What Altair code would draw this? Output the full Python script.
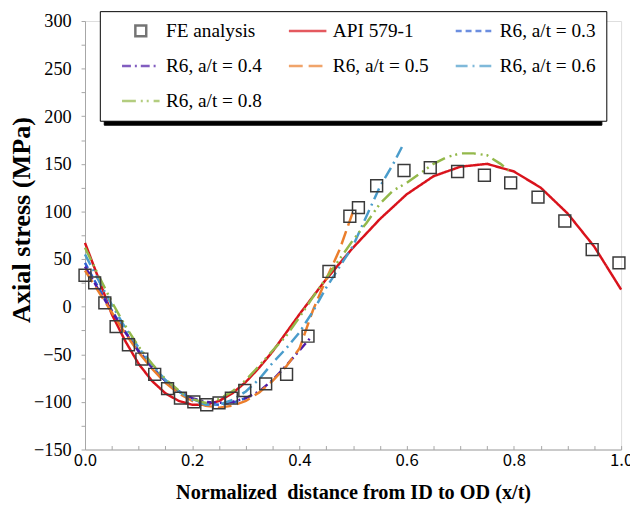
import altair as alt
import pandas as pd

# ---------------- data ----------------
fe_x = [0.0, 0.018, 0.037, 0.058, 0.081, 0.106, 0.130, 0.154, 0.178, 0.203,
        0.227, 0.250, 0.273, 0.298, 0.337, 0.376, 0.416, 0.455, 0.494, 0.510,
        0.544, 0.595, 0.644, 0.695, 0.745, 0.794, 0.845, 0.895, 0.946, 0.996]
fe_y = [33, 25, 4, -21, -40, -55, -71, -86, -96, -100,
        -103, -101, -96, -88, -81, -71, -31, 37, 95, 104,
        127, 143, 146, 142, 138, 130, 115, 90, 60, 46]

api_x = [0.0, 0.025, 0.05, 0.075, 0.1, 0.125, 0.15, 0.175, 0.2, 0.225, 0.25,
         0.275, 0.3, 0.325, 0.35, 0.4, 0.45, 0.5, 0.55, 0.6, 0.65, 0.7, 0.75,
         0.8, 0.85, 0.9, 0.95, 1.0]
api_y = [67, 30, -8, -36, -60, -78, -91, -99, -103, -103, -99,
         -91, -79, -64, -47, -8, 29, 62, 92, 118, 137, 147, 150,
         142, 125, 98, 63, 18]

r6_03_x = [0.0, 0.025, 0.05, 0.075, 0.1, 0.125, 0.15, 0.175, 0.2, 0.225, 0.25,
           0.275, 0.3]
r6_03_y = [46, 20, -4, -26, -46, -63, -78, -89, -97, -102, -103, -101, -96]

r6_04_x = [0.0, 0.025, 0.05, 0.075, 0.1, 0.125, 0.15, 0.175, 0.2, 0.225, 0.25,
           0.275, 0.3, 0.325, 0.35, 0.375, 0.4, 0.42]
r6_04_y = [42, 18, -5, -27, -47, -64, -78, -89, -96, -100, -101,
           -100, -96, -89, -77, -62, -46, -33]

r6_05_x = [0.0, 0.025, 0.05, 0.075, 0.1, 0.125, 0.15, 0.175, 0.2, 0.225, 0.25,
           0.275, 0.3, 0.325, 0.35, 0.375, 0.4, 0.425, 0.45, 0.475, 0.5]
r6_05_y = [38, 16, -6, -28, -48, -65, -80, -91, -99, -104, -106,
           -104, -99, -90, -78, -63, -44, -4, 29, 60, 100]

r6_06_x = [0.0, 0.025, 0.05, 0.075, 0.1, 0.125, 0.15, 0.175, 0.2, 0.225, 0.25,
           0.275, 0.3, 0.325, 0.35, 0.375, 0.4, 0.425, 0.45, 0.475, 0.5,
           0.525, 0.55, 0.575, 0.595]
r6_06_y = [55, 28, 2, -22, -43, -61, -77, -89, -98, -103, -103,
           -98, -89, -76, -59, -44, -27, -5, 20, 42, 64,
           95, 126, 150, 172]

r6_08_x = [0.0, 0.025, 0.05, 0.075, 0.1, 0.125, 0.15, 0.175, 0.2, 0.225, 0.25,
           0.275, 0.3, 0.325, 0.35, 0.375, 0.4, 0.425, 0.45, 0.475, 0.5,
           0.525, 0.55, 0.575, 0.6, 0.625, 0.65, 0.675, 0.7, 0.725, 0.75,
           0.775, 0.79]
r6_08_y = [62, 33, 5, -20, -42, -60, -76, -88, -97, -101, -97,
           -89, -77, -62, -46, -31, -11, 10, 30, 50, 70,
           88, 108, 122, 130, 140, 150, 157, 161, 161, 159,
           150, 143]

series_names = ["FE analysis", "API 579-1", "R6, a/t = 0.3", "R6, a/t = 0.4",
                "R6, a/t = 0.5", "R6, a/t = 0.6", "R6, a/t = 0.8"]
series_colors = ["#3a3a3a", "#D9131C", "#2D5FD3", "#4E1AA6",
                 "#EB7E2C", "#4A9CCB", "#93B84A"]
series_dashes = [[1, 0], [1, 0], [6, 4], [9, 4, 2, 4], [14, 6],
                 [12, 5, 2, 5], [14, 5, 2, 4, 2, 5]]
# plot/legend symbols: small square for FE, horizontal stroke for the curves
square_path = "M-0.29,-0.29H0.29V0.29H-0.29Z"
stroke_path = "M-1,0H1"
series_shapes = [square_path] + [stroke_path] * 6

x_label_values = [0.0, 0.2, 0.4, 0.6, 0.8, 1.0]
x_tick_values = [0.0, 0.05, 0.1, 0.15, 0.2, 0.25, 0.3, 0.35, 0.4, 0.45, 0.5,
                 0.55, 0.6, 0.65, 0.7, 0.75, 0.8, 0.85, 0.9, 0.95, 1.0]
y_tick_values = [-150, -125, -100, -75, -50, -25, 0, 25, 50, 75, 100, 125,
                 150, 175, 200, 225, 250, 275, 300]

curves = [
    ("API 579-1", api_x, api_y),
    ("R6, a/t = 0.3", r6_03_x, r6_03_y),
    ("R6, a/t = 0.4", r6_04_x, r6_04_y),
    ("R6, a/t = 0.5", r6_05_x, r6_05_y),
    ("R6, a/t = 0.6", r6_06_x, r6_06_y),
    ("R6, a/t = 0.8", r6_08_x, r6_08_y),
]
rows = []
for name, xs, ys in curves:
    for i, (a, b) in enumerate(zip(xs, ys)):
        rows.append({"x": a, "y": b, "series": name, "order": i})
line_df = pd.DataFrame(rows)
fe_df = pd.DataFrame({"x": fe_x, "y": fe_y, "series": "FE analysis", "sh": "0"})

# ---------------- styling ----------------
SERIF = "Liberation Serif"
GRAY = "#a6a6a6"
W, H = 543, 434

ROW_H = 20
ROW_PAD = 15.5
main_legend = alt.Legend(
    title=None, orient="none", direction="horizontal", columns=3,
    legendX=15, legendY=-10, padding=10, fillColor="white",
    strokeColor="black", cornerRadius=0, zindex=1,
    labelFont=SERIF, labelFontSize=19.5, labelColor="black", labelLimit=300,
    symbolSize=1444, symbolStrokeWidth=2.5, labelOffset=5, symbolOffset=11,
    columnPadding=14, rowPadding=ROW_PAD, clipHeight=ROW_H)

# black drop shadow behind the legend box
SH_W = 484
SH_H = 3 * ROW_H + 2 * ROW_PAD
shadow_path = "M-1,-{r:.4f}H1V{r:.4f}H-1Z".format(r=SH_H / SH_W)
shadow_legend = alt.Legend(
    title=None, orient="none", legendX=19, legendY=-6, padding=10,
    fillColor="black", strokeColor="black", cornerRadius=0, zindex=0,
    labelExpr="''", labelOffset=0, symbolOffset=0, symbolType=shadow_path,
    symbolSize=SH_W * SH_W, symbolStrokeWidth=0, symbolFillColor="black",
    clipHeight=SH_H)

xscale = alt.Scale(domain=[0, 1], nice=False, zero=False)
yscale = alt.Scale(domain=[-150, 300], nice=False, zero=False)

y_axis = alt.Axis(values=y_tick_values,
                  labelExpr="datum.value % 50 === 0 ? datum.label : ''",
                  tickSize=4, tickColor=GRAY, domainColor=GRAY, grid=False,
                  labelFont=SERIF, labelFontSize=18.5, labelColor="black",
                  labelPadding=10, labelFlush=False, labelOverlap=False,
                  title="Axial stress (MPa)", titleFont=SERIF, titleFontSize=26.5,
                  titleFontWeight="bold", titleColor="black", titlePadding=-2,
                  titleY=201)

x_axis_labels = alt.Axis(orient="bottom", values=x_label_values, format=".1f",
                         ticks=False, domain=True, domainColor=GRAY, grid=False,
                         labelFont="Noto Sans CJK KR", labelFontSize=17,
                         labelColor="black", labelPadding=3, labelFlush=False,
                         labelOverlap=False,
                         title="Normalized\u00a0 distance from ID to OD (x/t)",
                         titleFont=SERIF, titleFontSize=20.5,
                         titleFontWeight="bold", titleColor="black",
                         titlePadding=15)
x_axis_ticks = alt.Axis(orient="bottom", values=x_tick_values, labels=False,
                        domain=False, ticks=True, tickSize=4, tickColor=GRAY,
                        offset=-4, grid=False)

color_enc = alt.Color("series:N",
                      scale=alt.Scale(domain=series_names, range=series_colors),
                      legend=main_legend)

lines = alt.Chart(line_df).mark_line(strokeWidth=2.5, interpolate="linear").encode(
    x=alt.X("x:Q", scale=xscale, axis=x_axis_labels),
    y=alt.Y("y:Q", scale=yscale, axis=y_axis),
    color=color_enc,
    strokeDash=alt.StrokeDash("series:N",
                              scale=alt.Scale(domain=series_names, range=series_dashes),
                              legend=main_legend),
    order="order:Q",
)

points = alt.Chart(fe_df).mark_point(filled=False, size=1713, strokeWidth=1.5).encode(
    x=alt.X("x:Q", scale=xscale, axis=x_axis_ticks, title=None),
    y=alt.Y("y:Q", scale=yscale, axis=y_axis),
    color=color_enc,
    shape=alt.Shape("series:N",
                    scale=alt.Scale(domain=series_names, range=series_shapes),
                    legend=main_legend),
    opacity=alt.Opacity("sh:N",
                        scale=alt.Scale(type="point", domain=["0"], range=[1, 1]),
                        legend=shadow_legend),
)

chart = alt.layer(lines, points).resolve_axis(x="independent").properties(
    width=W, height=H,
    autosize=alt.AutoSizeParams(type="none"),
    padding={"left": 78, "top": 10, "right": 9, "bottom": 53},
).configure_view(stroke=GRAY, strokeWidth=1).configure(background="white")

chart.save("out.html", embed_options={"renderer": "svg", "actions": False})
